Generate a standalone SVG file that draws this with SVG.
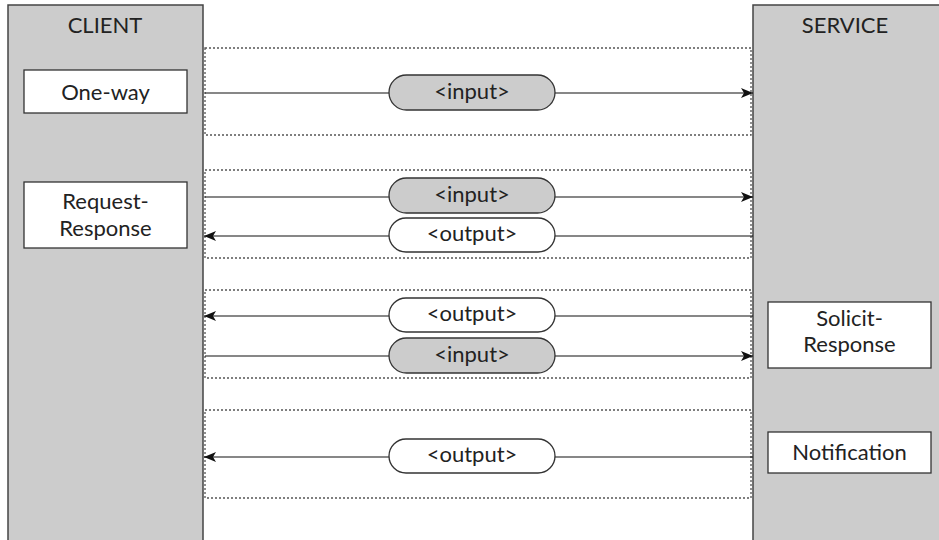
<svg xmlns="http://www.w3.org/2000/svg" width="939" height="540" viewBox="0 0 939 540">
<defs>
<style>
.col{fill:#cccccc;stroke:#444;stroke-width:1.5}
.box{fill:#fff;stroke:#333;stroke-width:1.3}
.grp{fill:none;stroke:#555;stroke-width:1.3;stroke-dasharray:2 2}
.ln{stroke:#111;stroke-width:1.2;fill:none}
.pin{fill:#cccccc;stroke:#333;stroke-width:1.3}
.pout{fill:#fff;stroke:#333;stroke-width:1.3}
text{font-family:Lato,"Open Sans","Liberation Sans",sans-serif;font-size:22px;fill:#222;text-anchor:middle}
</style>
<marker id="ah" viewBox="0 0 12 10" refX="12" refY="5" markerWidth="12" markerHeight="10" markerUnits="userSpaceOnUse" orient="auto-start-reverse">
<path d="M0,0 L12,5 L0,10 L3,5 Z" fill="#111"/>
</marker>
</defs>
<g id="client">
<rect class="col" x="8" y="5" width="195" height="545"/>
<text x="105" y="33">CLIENT</text>
</g>
<g id="service">
<rect class="col" x="753" y="5" width="200" height="545"/>
<text x="845" y="33">SERVICE</text>
</g>
<g id="groups">
<rect class="grp" x="205" y="48" width="546" height="87"/>
<rect class="grp" x="205" y="170" width="546" height="88"/>
<rect class="grp" x="205" y="290" width="546" height="88"/>
<rect class="grp" x="205" y="410" width="546" height="88"/>
</g>
<g id="one-way">
<rect class="box" x="24" y="70" width="163" height="43"/>
<text x="105.5" y="100">One-way</text>
</g>
<g id="request-response">
<rect class="box" x="24" y="182" width="163" height="66"/>
<text x="105.5" y="209">Request-</text>
<text x="105.5" y="236">Response</text>
</g>
<g id="solicit-response">
<rect class="box" x="768" y="302" width="163" height="66"/>
<text x="849.5" y="326">Solicit-</text>
<text x="849.5" y="352">Response</text>
</g>
<g id="notification">
<rect class="box" x="768" y="432" width="163" height="41"/>
<text x="849.5" y="460">Notification</text>
</g>
<g id="connectors">
<line class="ln" x1="205" y1="93" x2="753" y2="93" marker-end="url(#ah)"/>
<line class="ln" x1="205" y1="197" x2="753" y2="197" marker-end="url(#ah)"/>
<line class="ln" x1="753" y1="236" x2="204" y2="236" marker-end="url(#ah)"/>
<line class="ln" x1="753" y1="316" x2="204" y2="316" marker-end="url(#ah)"/>
<line class="ln" x1="205" y1="356" x2="753" y2="356" marker-end="url(#ah)"/>
<line class="ln" x1="753" y1="457" x2="204" y2="457" marker-end="url(#ah)"/>
</g>
<g id="msg1">
<rect class="pin" x="389" y="75" width="166" height="35" rx="17.5"/>
<text x="472" y="99">&lt;input&gt;</text>
</g>
<g id="msg2">
<rect class="pin" x="389" y="178" width="166" height="35" rx="17.5"/>
<text x="472" y="202">&lt;input&gt;</text>
</g>
<g id="msg3">
<rect class="pout" x="389" y="218" width="166" height="34" rx="17"/>
<text x="472" y="241">&lt;output&gt;</text>
</g>
<g id="msg4">
<rect class="pout" x="389" y="298" width="166" height="34" rx="17"/>
<text x="472" y="321">&lt;output&gt;</text>
</g>
<g id="msg5">
<rect class="pin" x="389" y="338" width="166" height="35" rx="17.5"/>
<text x="472" y="362">&lt;input&gt;</text>
</g>
<g id="msg6">
<rect class="pout" x="389" y="439" width="166" height="34" rx="17"/>
<text x="472" y="462">&lt;output&gt;</text>
</g>
</svg>
